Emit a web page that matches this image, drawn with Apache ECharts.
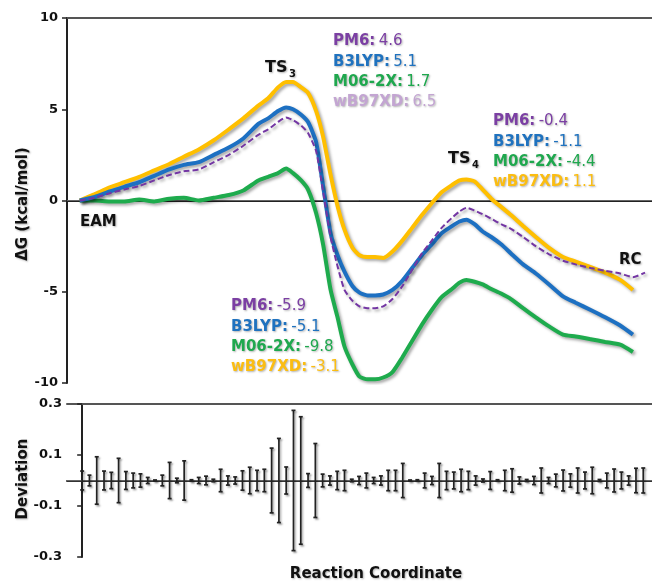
<!DOCTYPE html>
<html>
<head>
<meta charset="utf-8">
<script src="https://cdn.jsdelivr.net/npm/echarts@6/dist/echarts.min.js"></script>
<style>
  html, body { margin: 0; padding: 0; background: #fff; }
  #chart { width: 652px; height: 581px; }
</style>
</head>
<body>
<div id="chart"></div>
<script>
// reaction coordinate (0-100) of the sampled points
var rc = [2.2, 4.8, 7.4, 9.9, 12.5, 15.1, 17.7, 20.2, 22.8, 25.4,
  28.0, 30.5, 33.1, 34.8, 36.5, 37.9, 39.1, 40.5, 41.7, 43.1,
  44.3, 45.6, 46.8, 48.0, 49.4, 50.6, 52.0, 53.3, 54.7, 56.3,
  58.0, 59.7, 61.4, 63.1, 64.8, 66.6, 67.9, 69.1, 70.5, 71.9,
  73.4, 75.1, 76.8, 78.9, 81.1, 83.4, 85.8, 88.0, 90.6, 93.1,
  95.7, 97.9, 100];

var pm6 = [0, 0.15, 0.4, 0.6, 0.8, 1.1, 1.4, 1.6, 1.7, 2.1,
  2.5, 3.0, 3.6, 3.9, 4.3, 4.55, 4.4, 4.1, 3.7, 2.7,
  0.5, -2.0, -3.6, -4.9, -5.5, -5.8, -5.9, -5.9, -5.8, -5.4,
  -4.7, -3.8, -2.9, -2.2, -1.5, -0.95, -0.6, -0.4, -0.55, -0.75,
  -1.0, -1.3, -1.55, -2.0, -2.5, -2.95, -3.3, -3.5, -3.7, -3.85,
  -4.0, -4.2, -3.95];

var b3lyp = [0, 0.2, 0.5, 0.75, 1.0, 1.35, 1.7, 1.95, 2.1, 2.5,
  2.9, 3.4, 4.2, 4.5, 4.9, 5.1, 5.0, 4.7, 4.3, 3.2,
  0.8, -1.8, -3.0, -3.9, -4.7, -5.05, -5.2, -5.2, -5.15, -4.9,
  -4.4, -3.7, -3.0, -2.4, -1.8, -1.4, -1.15, -1.05, -1.3, -1.7,
  -2.0, -2.4, -2.9, -3.5, -4.0, -4.6, -5.25, -5.6, -6.0, -6.4,
  -6.85, -7.35];

var m062x = [0, 0, -0.05, -0.05, 0.05, -0.05, 0.1, 0.15, 0.0, 0.15,
  0.3, 0.55, 1.1, 1.3, 1.5, 1.75, 1.5, 1.1, 0.6, -0.7,
  -2.4, -4.9, -6.4, -8.0, -9.0, -9.65, -9.8, -9.8, -9.7, -9.4,
  -8.6, -7.7, -6.8, -6.0, -5.3, -4.85, -4.5, -4.35, -4.45, -4.6,
  -4.85, -5.1, -5.4, -5.9, -6.4, -6.9, -7.35, -7.45, -7.6, -7.75,
  -7.9, -8.3];

var wb97xd = [0, 0.35, 0.72, 1.0, 1.3, 1.65, 2.0, 2.4, 2.8, 3.3,
  3.9, 4.5, 5.2, 5.6, 6.2, 6.5, 6.5, 6.2, 5.9, 4.9,
  3.5, 1.4, -0.3, -1.6, -2.6, -3.0, -3.1, -3.1, -3.15, -2.8,
  -2.2, -1.5, -0.8, -0.15, 0.45, 0.85, 1.1, 1.15, 1.05, 0.6,
  0.1, -0.35, -0.8, -1.4, -2.0, -2.6, -3.1, -3.35, -3.65, -3.95,
  -4.35, -4.9];

// deviation (half length of each error bar), one per frame
var deviation = [0.037, 0.021, 0.093, 0.037, 0.032, 0.087, 0.035, 0.029, 0.026, 0.012,
  0.002, 0.021, 0.071, 0.009, 0.077, 0.003, 0.012, 0.017, 0.005, 0.044,
  0.018, 0.014, 0.038, 0.052, 0.040, 0.044, 0.127, 0.165, 0.053, 0.275,
  0.250, 0.027, 0.145, 0.025, 0.018, 0.036, 0.040, 0.005, 0.016, 0.029,
  0.012, 0.018, 0.040, 0.040, 0.067, 0.002, 0.003, 0.029, 0.016, 0.067,
  0.036, 0.033, 0.044, 0.036, 0.018, 0.006, 0.035, 0.003, 0.040, 0.046,
  0.014, 0.004, 0.016, 0.049, 0.012, 0.025, 0.041, 0.026, 0.049, 0.033,
  0.052, 0.004, 0.029, 0.045, 0.033, 0.018, 0.048, 0.049];

var methods = ['PM6', 'B3LYP', 'M06-2X', 'wB97XD'];
var ts3Values = [4.6, 5.1, 1.7, 6.5];
var ts4Values = [-0.4, -1.1, -4.4, 1.1];
var intValues = [-5.9, -5.1, -9.8, -3.1];

var colPM6 = '#7336a3', colB3 = '#1d70c2', colM06 = '#1eab4d', colWB = '#ffbf00';
var labelColors = ['#7b3fa3', '#1f72bf', '#1fa84e', '#fbbd12'];

function pairs(xs, ys) {
  var out = [];
  for (var i = 0; i < ys.length; i++) out.push([xs[i], ys[i]]);
  return out;
}

var shadow = { shadowColor: 'rgba(0,0,0,0.35)', shadowBlur: 3, shadowOffsetX: 2, shadowOffsetY: 2 };
var txtShadow = { textShadowColor: 'rgba(0,0,0,0.3)', textShadowBlur: 2, textShadowOffsetX: 1, textShadowOffsetY: 1 };
var font = '"DejaVu Sans", sans-serif';

function lineSeries(name, ys, color, dashed, width) {
  return {
    name: name,
    type: 'line',
    xAxisIndex: 0,
    yAxisIndex: 0,
    data: pairs(rc, ys),
    symbol: 'none',
    smooth: 0.2,
    lineStyle: Object.assign({ color: color, width: width, type: dashed ? [6, 3] : 'solid' }, shadow)
  };
}

function block(left, top, values, colors) {
  var lines = [];
  for (var i = 0; i < methods.length; i++) {
    lines.push('{n' + i + '|' + methods[i] + ':} {v' + i + '|' + values[i] + '}');
  }
  var rich = {};
  for (var j = 0; j < methods.length; j++) {
    rich['n' + j] = Object.assign({ fontFamily: font, fontWeight: 'bold', fontSize: 15, fill: colors[j], lineHeight: 20.3 }, txtShadow);
    rich['v' + j] = Object.assign({ fontFamily: font, fontSize: 15, fill: colors[j], lineHeight: 20.3 }, txtShadow);
  }
  return { type: 'text', left: left, top: top, style: { text: lines.join('\n'), rich: rich } };
}

function label(x, y, txt, size) {
  return { type: 'text', x: x, y: y, style: Object.assign({ text: txt, fontFamily: font, fontWeight: 'bold', fontSize: size, fill: '#111', textVerticalAlign: 'middle' }, txtShadow) };
}

var chart = echarts.init(document.getElementById('chart'));

var option = {
  animation: false,
  grid: [
    { left: 67, top: 18, width: 590, height: 365 },
    { left: 67, top: 404, width: 590, height: 153 }
  ],
  xAxis: [
    { gridIndex: 0, type: 'value', min: 0, max: 101.2, position: 'bottom',
      axisLine: { lineStyle: { color: '#222', width: 2 } }, axisTick: { show: false }, axisLabel: { show: false }, splitLine: { show: false } },
    { gridIndex: 0, type: 'value', min: 0, max: 101.2, position: 'top',
      axisLine: { lineStyle: { color: '#555', width: 2 } }, axisTick: { show: false }, axisLabel: { show: false }, splitLine: { show: false } },
    { gridIndex: 1, type: 'value', min: -2.08, max: 78.2, position: 'bottom',
      axisLine: { lineStyle: { color: '#333', width: 2 } }, axisTick: { show: false }, axisLabel: { show: false }, splitLine: { show: false } },
    { gridIndex: 1, type: 'value', min: -2.08, max: 78.2, position: 'top',
      axisLine: { lineStyle: { color: '#555', width: 2 } }, axisTick: { show: false }, axisLabel: { show: false }, splitLine: { show: false } }
  ],
  yAxis: [
    { gridIndex: 0, type: 'value', min: -10, max: 10, interval: 5,
      axisLine: { show: true, lineStyle: { color: '#222', width: 2 } },
      axisTick: { show: true, length: 5, lineStyle: { color: '#222', width: 1.5 } },
      axisLabel: { margin: 9, fontFamily: font, fontWeight: 'bold', fontSize: 13, color: '#111' },
      splitLine: { show: false } },
    { gridIndex: 1, type: 'value', min: -0.3, max: 0.3, interval: 0.2,
      axisLine: { show: true, lineStyle: { color: '#222', width: 2 } },
      axisTick: { show: true, length: 5, lineStyle: { color: '#222', width: 1.5 } },
      axisLabel: { margin: 5, fontFamily: font, fontWeight: 'bold', fontSize: 13, color: '#111',
        formatter: function (v) { return (Math.round(v * 10) / 10).toFixed(1); } },
      splitLine: { show: false } }
  ],
  series: [
    Object.assign(lineSeries('M06-2X', m062x, colM06, false, 4), {
      markLine: { silent: true, symbol: 'none', label: { show: false }, z: 1,
        lineStyle: { color: '#666', width: 1, type: 'solid' }, data: [{ yAxis: 0 }] }
    }),
    lineSeries('wB97XD', wb97xd, colWB, false, 4),
    lineSeries('B3LYP', b3lyp, colB3, false, 4),
    lineSeries('PM6', pm6, colPM6, true, 2),
    {
      name: 'Deviation',
      type: 'custom',
      xAxisIndex: 2,
      yAxisIndex: 1,
      data: deviation.map(function (d, i) { return [i, d]; }),
      renderItem: function (params, api) {
        var x = api.value(0), d = api.value(1);
        var p1 = api.coord([x, d]);
        var p2 = api.coord([x, -d]);
        var st = Object.assign({ stroke: '#222', lineWidth: 1.7 }, shadow, { shadowBlur: 2, shadowOffsetX: 1.5, shadowOffsetY: 1.5 });
        return {
          type: 'group',
          children: [
            { type: 'line', shape: { x1: p1[0], y1: p1[1], x2: p2[0], y2: p2[1] }, style: st },
            { type: 'line', shape: { x1: p1[0] - 2, y1: p1[1], x2: p1[0] + 2, y2: p1[1] }, style: st },
            { type: 'line', shape: { x1: p2[0] - 2, y1: p2[1], x2: p2[0] + 2, y2: p2[1] }, style: st }
          ]
        };
      },
      markLine: { silent: true, symbol: 'none', label: { show: false }, z: 1,
        lineStyle: { color: '#666', width: 1, type: 'solid' }, data: [{ yAxis: 0 }] }
    }
  ],
  graphic: [
    block(333, 34, ts3Values, [labelColors[0], labelColors[1], labelColors[2], '#c3a5d2']),
    block(493, 114, ts4Values, labelColors),
    block(231, 299, intValues, labelColors),
    label(265, 68, 'TS', 16),
    label(289, 74, '3', 10),
    label(448, 159, 'TS', 16),
    label(472, 165, '4', 10),
    label(80, 222, 'EAM', 15),
    label(619, 260, 'RC', 15),
    { type: 'text', x: 23, y: 204, rotation: Math.PI / 2,
      style: Object.assign({ text: 'ΔG (kcal/mol)', fontFamily: font, fontWeight: 'bold', fontSize: 15, fill: '#111', textAlign: 'center', textVerticalAlign: 'middle' }, txtShadow) },
    { type: 'text', x: 23, y: 479, rotation: Math.PI / 2,
      style: Object.assign({ text: 'Deviation', fontFamily: font, fontWeight: 'bold', fontSize: 15, fill: '#111', textAlign: 'center', textVerticalAlign: 'middle' }, txtShadow) },
    { type: 'text', x: 376, y: 574,
      style: Object.assign({ text: 'Reaction Coordinate', fontFamily: font, fontWeight: 'bold', fontSize: 15, fill: '#111', textAlign: 'center', textVerticalAlign: 'middle' }, txtShadow) }
  ]
};

chart.setOption(option);
</script>
</body>
</html>
